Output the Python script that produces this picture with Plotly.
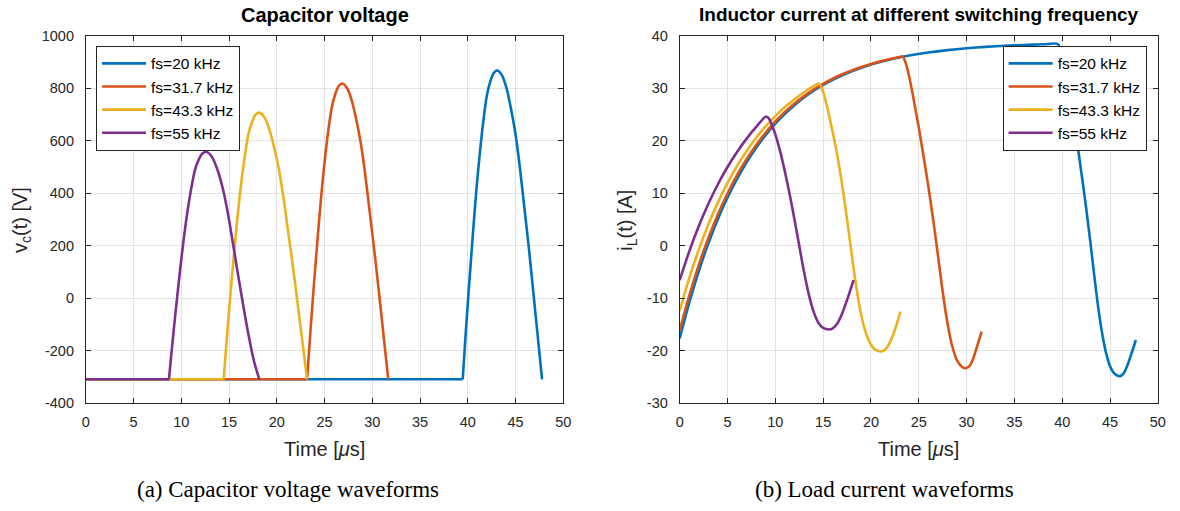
import plotly.graph_objects as go

# ---------------- data ----------------
labels = ["fs=20 kHz", "fs=31.7 kHz", "fs=43.3 kHz", "fs=55 kHz"]
colors = ["#0072BD", "#D95319", "#EDB120", "#7E2F8E"]

# Capacitor voltage (time in us, voltage in V)
t_vc_20 = [0, 39.47, 39.83, 40.20, 40.56, 40.92, 41.29, 41.65, 42.01, 42.37, 42.74, 43.10,
           43.57, 44.04, 44.50, 44.97, 45.44, 45.91, 46.38, 46.84, 47.31, 47.78]
vc_20 = [-310, -310, -110, 79, 255, 420, 562, 680, 774, 827, 859, 868,
         850, 803, 727, 632, 503, 350, 197, 32, -139, -310]

t_vc_317 = [0, 23.17, 23.54, 23.91, 24.28, 24.65, 25.02, 25.39, 25.76, 26.13, 26.50, 26.87,
            27.35, 27.83, 28.31, 28.79, 29.27, 29.75, 30.23, 30.71, 31.19, 31.67]
vc_317 = [-310, -310, -118, 62, 231, 389, 525, 638, 728, 779, 809, 818,
          801, 756, 683, 592, 468, 322, 175, 17, -146, -310]

t_vc_433 = [0, 14.43, 14.80, 15.17, 15.54, 15.91, 16.29, 16.66, 17.03, 17.40, 17.77, 18.14,
            18.64, 19.15, 19.65, 20.15, 20.66, 21.16, 21.66, 22.16, 22.67, 23.17]
vc_433 = [-310, -310, -137, 26, 178, 321, 443, 544, 626, 671, 699, 707,
          692, 651, 585, 504, 392, 260, 127, -15, -163, -310]

t_vc_55 = [0, 8.70, 9.09, 9.48, 9.87, 10.26, 10.65, 11.04, 11.43, 11.82, 12.21, 12.60,
           13.16, 13.71, 14.27, 14.83, 15.39, 15.94, 16.50, 17.06, 17.61, 18.17]
vc_55 = [-310, -310, -162, -24, 107, 228, 332, 419, 489, 528, 551, 558,
         541, 497, 428, 332, 211, 89, -32, -145, -241, -310]

# Inductor current (time in us, current in A)
t_il_20 = [0, 1, 2, 3, 4, 5, 6, 7, 8, 9, 10, 11, 12, 13, 14, 15, 16, 17, 18, 19, 20,
           22, 24, 26, 28, 30, 32, 34, 36, 38, 39.5,
           39.8, 40.2, 40.6, 41.0, 41.5, 42.0, 42.5, 42.95, 43.4, 43.8, 44.2, 44.6,
           45.0, 45.5, 46.0, 46.4, 46.8, 47.2, 47.7]
il_20 = [-17.7, -10.9, -4.85, 0.43, 5.08, 9.16, 12.74, 15.9, 18.67, 21.1, 23.25, 25.13,
         26.78, 28.24, 29.52, 30.64, 31.62, 32.49, 33.26, 33.93, 34.52,
         35.49, 36.24, 36.82, 37.27, 37.62, 37.89, 38.1, 38.26, 38.38, 38.45,
         37.6, 35.0, 31.3, 26.6, 20.5, 13.9, 7.2, 0.5, -6.5, -12.3, -17.0, -20.6,
         -23.0, -24.5, -24.9, -24.4, -22.9, -20.8, -18.0]

t_il_317 = [0, 1, 2, 3, 4, 5, 6, 7, 8, 9, 10, 11, 12, 13, 14, 15, 16, 17, 18, 19, 20,
            21, 22, 23, 23.3,
            23.6, 24.0, 24.5, 25.0, 25.5, 26.0, 26.5, 27.0, 27.5, 28.0, 28.5, 29.0,
            29.5, 29.85, 30.3, 30.7, 31.1, 31.57]
il_317 = [-16.2, -9.55, -3.69, 1.45, 5.97, 9.94, 13.43, 16.5, 19.2, 21.57, 23.66, 25.49,
          27.1, 28.51, 29.76, 30.85, 31.81, 32.66, 33.4, 34.06, 34.63, 35.14, 35.58,
          35.97, 36.08,
          35.0, 32.2, 27.5, 22.5, 17.0, 11.3, 5.0, -1.8, -8.8, -14.8, -19.2, -21.9,
          -23.1, -23.4, -23.0, -21.5, -19.2, -16.4]

t_il_433 = [0, 1, 2, 3, 4, 5, 6, 7, 8, 9, 10, 11, 12, 13, 14, 14.5,
            14.75, 15.0, 15.4, 15.8, 16.3, 16.7, 17.1, 17.5, 17.9, 18.3, 18.7, 19.1,
            19.5, 20.0, 20.5, 21.05, 21.5, 22.0, 22.5, 23.08]
il_433 = [-12.4, -6.2, -0.76, 4.03, 8.24, 11.94, 15.19, 18.04, 20.56, 22.76, 24.7,
          26.41, 27.91, 29.23, 30.39, 30.91,
          30.5, 29.3, 26.6, 23.3, 19.0, 14.9, 10.2, 5.0, -0.5, -5.8, -10.5, -14.2,
          -16.8, -18.9, -19.9, -20.2, -19.8, -18.4, -16.1, -12.6]

t_il_55 = [0, 1, 2, 3, 4, 5, 6, 7, 8, 9,
           9.3, 9.6, 10.0, 10.5, 11.0, 11.5, 12.0, 12.5, 13.0, 13.5, 14.0, 14.5, 15.0,
           15.6, 16.0, 16.5, 17.0, 17.5, 18.18]
il_55 = [-6.6, -1.11, 3.72, 7.97, 11.7, 14.98, 17.86, 20.39, 22.62, 24.58,
         24.3, 23.2, 21.2, 18.0, 14.1, 9.8, 5.0, 0.0, -5.0, -9.3, -12.6, -14.7, -15.7,
         -16.0, -15.8, -14.8, -12.9, -10.4, -6.6]

x_ticks = [0, 5, 10, 15, 20, 25, 30, 35, 40, 45, 50]
y1_ticks = [-400, -200, 0, 200, 400, 600, 800, 1000]
y1_text = ["-400", "-200", "0", "200", "400", "600", "800", "1000"]
y2_ticks = [-30, -20, -10, 0, 10, 20, 30, 40]
y2_text = ["-30", "-20", "-10", "0", "10", "20", "30", "40"]

# ---------------- figure ----------------
FONT = "Liberation Sans, Arial, Helvetica, sans-serif"
AX = "#262626"
GRID = "#e3e3e3"
LW = 2.6

fig = go.Figure()

vc_sets = [(t_vc_20, vc_20), (t_vc_317, vc_317), (t_vc_433, vc_433), (t_vc_55, vc_55)]
il_sets = [(t_il_20, il_20), (t_il_317, il_317), (t_il_433, il_433), (t_il_55, il_55)]

# capacitor voltage: flat clamp part drawn straight, resonant arc drawn smooth
for k, ((tx, vy), name, c) in enumerate(zip(vc_sets, labels, colors)):
    grp = "vc%d" % k
    fig.add_trace(go.Scatter(x=tx[:2], y=vy[:2], mode="lines", name=name,
                             line=dict(color=c, width=LW), legendgroup=grp,
                             xaxis="x", yaxis="y", legend="legend"))
    fig.add_trace(go.Scatter(x=tx[1:], y=vy[1:], mode="lines", name=name,
                             line=dict(color=c, width=LW, shape="spline", smoothing=0.9),
                             legendgroup=grp, showlegend=False,
                             xaxis="x", yaxis="y", legend="legend"))
for (tx, iy), name, c in zip(il_sets, labels, colors):
    fig.add_trace(go.Scatter(x=tx, y=iy, mode="lines", name=name,
                             line=dict(color=c, width=LW, shape="spline", smoothing=0.8),
                             xaxis="x2", yaxis="y2", legend="legend2"))

ydom = [0.2022, 0.9438]
common_ax = dict(showline=True, linecolor=AX, linewidth=1, mirror="allticks",
                 ticks="inside", ticklen=5, tickcolor=AX, tickwidth=1,
                 showgrid=True, gridcolor=GRID, gridwidth=1, zeroline=False,
                 tickfont=dict(family=FONT, size=14.5, color=AX))

leg_common = dict(xanchor="left", yanchor="top", bgcolor="white", bordercolor=AX,
                  borderwidth=1, font=dict(family=FONT, size=15.5, color="black"),
                  tracegroupgap=0, itemwidth=44, traceorder="normal")

fig.update_layout(
    width=1180, height=511,
    margin=dict(l=0, r=0, t=0, b=0),
    paper_bgcolor="white", plot_bgcolor="white",
    font=dict(family=FONT, color=AX),
    xaxis=dict(domain=[0.0701, 0.4788], range=[0, 50], tickvals=x_ticks,
               anchor="y", ticklabelstandoff=6, **common_ax),
    yaxis=dict(domain=ydom, range=[-400, 1000], tickvals=y1_ticks, ticktext=y1_text,
               anchor="x", ticklabelstandoff=8, **common_ax),
    xaxis2=dict(domain=[0.5785, 0.9879], range=[0, 50], tickvals=x_ticks,
                anchor="y2", ticklabelstandoff=6, **common_ax),
    yaxis2=dict(domain=ydom, range=[-30, 40], tickvals=y2_ticks, ticktext=y2_text,
                anchor="x2", ticklabelstandoff=8, **common_ax),
    legend=dict(x=0.0788, y=0.9237, **leg_common),
    legend2=dict(x=0.855, y=0.9237, **leg_common),
    showlegend=True,
)

ann = []
# titles
ann.append(dict(text="<b>Capacitor voltage</b>", x=0.2745, y=1 - 7 / 511,
                font=dict(family=FONT, size=20, color="black")))
ann.append(dict(text="<b>Inductor current at different switching frequency</b>",
                x=0.7832, y=1 - 7 / 511,
                font=dict(family=FONT, size=19, color="black")))
# x-axis titles
for xc in (0.2745, 0.7832):
    ann.append(dict(text="Time [<i>μ</i>s]", x=xc, y=1 - 455 / 511,
                    font=dict(family=FONT, size=20, color=AX)))
# y-axis titles
ann.append(dict(text="v<sub>c</sub>(t) [V]", x=17 / 1180, y=1 - 219 / 511, textangle=-90,
                font=dict(family=FONT, size=20, color=AX)))
ann.append(dict(text="i<sub>L</sub>(t) [A]", x=629 / 1180, y=1 - 219 / 511, textangle=-90,
                font=dict(family=FONT, size=20, color=AX)))
# captions
serif = "Liberation Serif, Times New Roman, serif"
ann.append(dict(text="(a) Capacitor voltage waveforms", x=287 / 1180, y=1 - 497 / 511,
                font=dict(family=serif, size=23, color="black")))
ann.append(dict(text="(b) Load current waveforms", x=890 / 1180, y=1 - 497 / 511,
                font=dict(family=serif, size=23, color="black")))

for a in ann:
    a.update(xref="paper", yref="paper", showarrow=False, xanchor="center", yanchor="middle")
    fig.add_annotation(**a)

fig.write_html("out.html")
